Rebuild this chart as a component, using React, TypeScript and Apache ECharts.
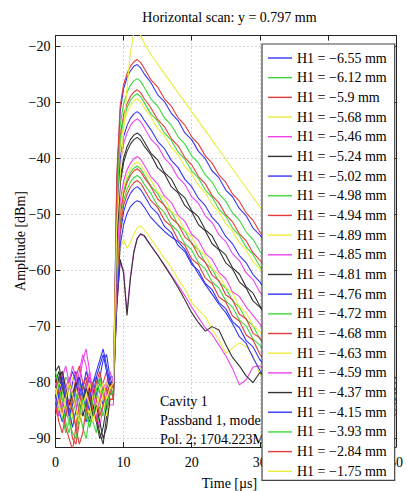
import { useEffect, useRef } from "react";
import * as echarts from "echarts";

const times = [0, 0.5, 1, 1.5, 2, 2.5, 3, 3.5, 4, 4.5, 5, 5.5, 6, 6.5, 7, 7.5, 8, 8.5, 9, 9.5, 10, 10.5, 11, 11.5, 12, 12.5, 13, 14, 15, 16, 17, 18, 19, 20, 21, 22, 23, 24, 25, 26, 27, 28, 29, 30, 33, 36, 39, 42, 45, 48, 50];

const h655 = [-81,-79,-83,-86,-84,-80,-78,-81,-85,-87,-84,-80,-79,-82,-84,-81,-79, -81,-44,-31.5,-27.5,-25.5,-24.3,-23.5,-23.2,-23.8,-24.8, -26.4,-28.6,-29.8,-31.9,-33.2,-35.4,-36.6,-38.7,-40.0,-42.2,-43.4,-45.6,-46.8,-48.9,-50.2,-52.4,-53.6, -59.2,-64.0,-69.3,-74.0,-79.1,-81.5,-84];
const h612 = [-84,-86,-82,-79,-80,-84,-88,-86,-82,-80,-83,-87,-89,-85,-81,-83,-80, -83,-46,-34,-30.2,-28.2,-26.9,-26.1,-25.7,-26.2,-27.2, -29.3,-30.6,-32.7,-34.0,-36.1,-37.4,-39.5,-40.8,-42.9,-44.2,-46.3,-47.6,-49.7,-51.0,-53.1,-54.4,-56.5, -61.5,-66.6,-71.8,-76.5,-80.5,-83,-81];
const h590 = [-83,-80,-78,-81,-86,-90,-91,-87,-83,-80,-79,-82,-85,-83,-80,-78,-81, -81,-48,-36,-32.2,-30.2,-28.9,-28.1,-27.7,-28.2,-29.2, -30.9,-33.0,-34.3,-36.4,-37.7,-39.8,-41.1,-43.2,-44.5,-46.6,-47.9,-50.0,-51.3,-53.4,-54.7,-56.8,-58.1, -63.4,-68.5,-73.6,-78.5,-82,-80,-83];
const h568 = [-80,-82,-85,-84,-81,-79,-82,-86,-88,-85,-82,-80,-83,-86,-84,-82,-80, -80,-50,-37.5,-33.8,-31.8,-30.5,-29.7,-29.3,-29.8,-30.8, -32.5,-34.6,-35.9,-38.0,-39.3,-41.4,-42.7,-44.8,-46.1,-48.2,-49.5,-51.6,-52.9,-55.0,-56.3,-58.4,-59.7, -65,-70.1,-75.2,-80,-83,-81,-84];
const h546 = [-85,-82,-79,-77,-80,-83,-81,-78,-75,-77,-81,-84,-82,-79,-81,-84,-82, -82,-53,-41,-37.4,-35.4,-34.1,-33.3,-32.9,-33.4,-34.4, -36.5,-37.7,-39.9,-41.2,-43.4,-44.6,-46.8,-48.0,-50.2,-51.4,-53.6,-54.8,-57.0,-58.2,-60.4,-61.6,-63.8, -68.6,-73.7,-78.8,-82,-80,-83,-81];
const h524 = [-78,-77,-80,-84,-86,-83,-80,-79,-82,-85,-87,-84,-86,-89,-91,-86,-82, -82,-56,-44.5,-40.7,-38.7,-37.4,-36.6,-36.2,-36.7,-37.7, -39.3,-41.6,-42.7,-45.0,-46.1,-48.4,-49.5,-51.8,-52.9,-55.2,-56.3,-58.6,-59.7,-62.0,-63.1,-65.4,-66.5, -71.9,-77,-81,-83,-80,-82,-79];
const h502 = [-82,-85,-87,-84,-80,-78,-80,-83,-81,-78,-80,-84,-82,-79,-76,-75,-79, -79,-65,-53.5,-49.5,-47.5,-46.2,-45.4,-45.0,-45.5,-46.5, -48.6,-49.8,-52.1,-53.2,-55.5,-56.6,-58.9,-60.0,-62.3,-63.4,-65.7,-66.8,-69.1,-70.2,-72.5,-73.6,-75.9, -80.5,-83,-80,-82,-85,-81,-83];
const h498 = [-79,-81,-84,-87,-89,-86,-83,-80,-82,-86,-88,-85,-81,-79,-82,-85,-81, -81,-63,-51.5,-47.5,-45.5,-44.2,-43.4,-43.0,-43.5,-44.5, -46.2,-48.4,-49.6,-51.8,-53.0,-55.2,-56.3,-58.6,-59.7,-62.0,-63.1,-65.4,-66.5,-68.8,-69.9,-72.2,-73.3, -78.4,-82,-84,-81,-80,-83,-82];
const h494 = [-86,-83,-80,-82,-85,-83,-79,-77,-80,-84,-86,-83,-80,-78,-81,-83,-80, -83,-64,-52.5,-48.4,-46.4,-45.1,-44.3,-43.9,-44.4,-45.4, -47.5,-48.7,-51.0,-52.1,-54.5,-55.5,-57.9,-58.9,-61.3,-62.3,-64.7,-65.6,-68.1,-69.0,-71.5,-72.4,-74.9, -79.5,-83,-81,-84,-80,-82,-85];
const h489 = [-83,-85,-83,-80,-82,-86,-87,-84,-81,-83,-86,-84,-81,-80,-83,-86,-83, -83,-65,-56,-54.5,-56,-55,-53.5,-52.4,-52,-52.6, -54.3,-56,-57.8,-59.4,-61.5,-63.3,-65.7,-67,-68.2,-70.5,-72.4,-74.8,-73.8,-72.9,-73.6,-75.2,-78.5, -81,-84,-80,-82,-85,-82,-80];
const h485 = [-80,-83,-86,-84,-80,-77,-79,-82,-84,-81,-78,-82,-86,-88,-84,-80,-78, -80,-66,-58.5,-60,-67.5,-61,-56.5,-54.2,-53.5,-53.8, -55.6,-57.3,-59.0,-60.8,-62.6,-64.5,-66.5,-68.4,-70.2,-71.4,-73.3,-75.2,-77.5,-80.4,-79.5,-77.2,-77.0, -80,-83,-81,-85,-82,-80,-86];
const h481 = [-82,-79,-78,-81,-84,-82,-80,-83,-86,-84,-81,-84,-87,-90,-88,-84,-80, -81,-66.5,-58,-60.5,-68,-61.5,-56.8,-54.3,-53.4,-53.7, -55.5,-57.2,-59.1,-61.0,-63.0,-65.2,-67.5,-69.3,-70.8,-70.0,-70.6,-73.2,-75.5,-77.0,-78.8,-80.0,-78.2, -81,-79,-84,-82,-80,-85,-83];
const h476 = [-84,-81,-79,-82,-85,-88,-85,-82,-80,-83,-85,-82,-79,-77,-75,-78,-82, -82,-66,-55.5,-51.8,-49.8,-48.6,-47.9,-47.5,-47.8,-48.6, -50.5,-51.8,-53.0,-54.0,-54.8,-56.2,-58.5,-60.6,-62.5,-64.2,-66.0,-67.5,-69.5,-71.8,-73.0,-75.5,-77.8, -82,-80,-84,-81,-83,-79,-82];
const h472 = [-81,-84,-86,-89,-87,-84,-82,-85,-88,-90,-86,-83,-81,-84,-86,-83,-81, -82,-61,-49.5,-45.8,-43.8,-42.5,-41.7,-41.3,-41.8,-42.8, -44.9,-46.2,-48.4,-49.5,-51.8,-52.9,-55.2,-56.3,-58.6,-59.7,-62.0,-63.1,-65.4,-66.5,-68.8,-69.8,-72.2, -77,-81.5,-83,-80,-82,-85,-81];
const h468 = [-79,-82,-85,-88,-90,-92,-88,-84,-81,-79,-82,-85,-87,-84,-81,-80,-82, -80,-61.5,-50,-46.3,-44.3,-43,-42.2,-41.8,-42.3,-43.3, -45.0,-47.2,-48.3,-50.6,-51.7,-54.0,-55.0,-57.4,-58.5,-60.8,-61.8,-64.3,-65.2,-67.8,-68.6,-71.2,-72.0, -77.3,-82,-80,-83,-81,-79,-84];
const h463 = [-82,-80,-81,-84,-86,-84,-81,-83,-85,-82,-80,-83,-85,-84,-82,-80,-81, -81,-60,-48.5,-45,-43,-41.8,-41,-40.6,-41.1,-42.1, -43.8,-46.0,-47.2,-49.4,-50.5,-52.8,-53.9,-56.2,-57.3,-59.6,-60.7,-63.0,-64.0,-66.4,-67.5,-69.8,-70.9, -75.9,-80.5,-83,-81,-79,-84,-82];
const h459 = [-83,-86,-84,-81,-79,-82,-85,-80,-76,-74,-78,-82,-85,-83,-80,-82,-84, -84,-59,-47.5,-44,-42,-40.8,-40,-39.6,-40.1,-41.1, -43.2,-44.5,-46.7,-47.8,-50.1,-51.2,-53.5,-54.6,-56.9,-58.0,-60.3,-61.4,-63.8,-64.6,-66.5,-68.0,-69.5, -74.8,-79.6,-82,-80,-84,-81,-83];
const h437 = [-80,-78,-81,-83,-80,-82,-85,-87,-84,-81,-83,-86,-84,-87,-90,-88,-83, -83,-55,-43.5,-39.9,-37.9,-36.6,-35.8,-35.4,-35.9,-36.9, -39.0,-40.2,-42.5,-43.6,-45.9,-47.0,-49.3,-50.4,-52.7,-53.8,-56.1,-57.2,-59.5,-60.6,-62.9,-64.0,-66.3, -71.1,-76.2,-80.5,-82,-79,-83,-81];
const h415 = [-85,-82,-80,-83,-86,-84,-81,-79,-82,-85,-83,-80,-78,-76,-74,-77,-80, -80,-52,-40,-36.1,-34.1,-32.8,-32.0,-31.6,-32.1,-33.1, -34.8,-36.9,-38.2,-40.3,-41.6,-43.7,-45.0,-47.1,-48.4,-50.5,-51.8,-53.9,-55.2,-57.3,-58.6,-60.7,-62.0, -67.3,-72.4,-77.5,-81,-83,-80,-82];
const h393 = [-78,-81,-83,-85,-87,-89,-90,-86,-83,-85,-88,-86,-83,-80,-82,-84,-82, -82,-49,-36.5,-32.9,-30.9,-29.6,-28.8,-28.4,-28.9,-29.9, -32.0,-33.3,-35.4,-36.7,-38.8,-40.1,-42.2,-43.5,-45.6,-46.9,-49.0,-50.3,-52.4,-53.7,-55.8,-57.1,-59.2, -64.1,-69.2,-74.3,-79.4,-82,-80,-84];
const h284 = [-84,-87,-89,-86,-83,-85,-88,-91,-89,-85,-82,-80,-83,-86,-84,-81,-83, -83,-43,-30.5,-26.8,-24.8,-23.5,-22.7,-22.3,-22.8,-23.8, -25.9,-27.2,-29.3,-30.6,-32.7,-34.0,-36.1,-37.4,-39.5,-40.8,-42.9,-44.2,-46.3,-47.6,-49.7,-51.0,-53.1, -58.2,-63.3,-68.4,-73.5,-78.6,-82,-80];
const h175 = [-81,-84,-86,-83,-80,-82,-85,-87,-84,-82,-84,-87,-85,-82,-80,-83,-81, -80,-52,-43,-35,-27.5,-21,-17.5,-17,-18.0,-19.3, -21.4,-23.1,-24.8,-26.5,-28.2,-29.9,-31.6,-33.3,-35.0,-36.7,-38.4,-40.1,-41.8,-43.5,-45.2,-46.9,-48.6, -53.7,-58.8,-63.9,-69.0,-74.1,-79.2,-82.6];

const seriesNames = [
  "H1 = −6.55 mm", "H1 = −6.12 mm", "H1 = −5.9 mm", "H1 = −5.68 mm", "H1 = −5.46 mm", "H1 = −5.24 mm",
  "H1 = −5.02 mm", "H1 = −4.98 mm", "H1 = −4.94 mm", "H1 = −4.89 mm", "H1 = −4.85 mm", "H1 = −4.81 mm",
  "H1 = −4.76 mm", "H1 = −4.72 mm", "H1 = −4.68 mm", "H1 = −4.63 mm", "H1 = −4.59 mm", "H1 = −4.37 mm",
  "H1 = −4.15 mm", "H1 = −3.93 mm", "H1 = −2.84 mm", "H1 = −1.75 mm",
];
const seriesValues = [h655, h612, h590, h568, h546, h524, h502, h498, h494, h489, h485, h481, h476, h472, h468, h463, h459, h437, h415, h393, h284, h175];
const lineColors = ["#3636f2", "#3cd83c", "#e53c3c", "#ecec3c", "#ee44ee", "#333333"];

const titleText = "Horizontal scan: y = 0.797 mm";
const xTitle = "Time [µs]";
const yTitle = "Amplitude [dBm]";
const noteLines = ["Cavity 1", "Passband 1, mode 1", "Pol. 2; 1704.223MHz"];

const FONT = "'Liberation Serif', 'Times New Roman', serif";

export default function App() {
  const ref = useRef<HTMLDivElement>(null);
  useEffect(() => {
    if (!ref.current) return;
    const chart = echarts.init(ref.current, null, { renderer: "svg" });
    const axisLine = { show: true, onZero: false, lineStyle: { color: "#222", width: 1 } };
    const tick = { show: true, inside: true, length: 5, lineStyle: { color: "#222", width: 1 } };
    const grid = { show: true, lineStyle: { color: "#a8a8a8", width: 1, type: [1, 3] as any } };
    const fmt = (v: number) => String(v).replace("-", "−");
    const series = seriesNames.map((name, k) => ({
      name,
      type: "line",
      data: seriesValues[k].map((v, i) => [times[i], v]),
      symbol: "none",
      showSymbol: false,
      color: lineColors[k % lineColors.length],
      itemStyle: { color: lineColors[k % lineColors.length] },
      lineStyle: { width: 1.1, color: lineColors[k % lineColors.length] },
      z: 2,
    }));
    chart.setOption({
      animation: false,
      backgroundColor: "#fff",
      textStyle: { fontFamily: FONT },
      grid: { left: 55.5, right: 7.5, top: 35.5, bottom: 44, containLabel: false },
      xAxis: [
        {
          type: "value", min: 0, max: 50, interval: 10, position: "bottom",
          axisLine, axisTick: tick, splitLine: grid,
          axisLabel: { color: "#000", fontSize: 14, fontFamily: FONT, margin: 8 },
        },
        {
          type: "value", min: 0, max: 50, interval: 10, position: "top",
          axisLine, axisTick: tick, splitLine: { show: false }, axisLabel: { show: false },
        },
      ],
      yAxis: [
        {
          type: "value", min: -91.5, max: -18, splitNumber: 7, position: "left",
          axisLine, axisTick: tick, splitLine: grid,
          axisLabel: { color: "#000", fontSize: 14, fontFamily: FONT, margin: 5, formatter: fmt, showMinLabel: false, showMaxLabel: false },
        },
        {
          type: "value", min: -91.5, max: -18, splitNumber: 7, position: "right",
          axisLine, axisTick: tick, splitLine: { show: false }, axisLabel: { show: false },
        },
      ],
      legend: {
        data: seriesNames,
        orient: "vertical",
        left: 262,
        top: 44,
        icon: "rect",
        itemWidth: 24,
        itemHeight: 1.4,
        itemGap: 5.68,
        padding: [7, 8, 2, 6],
        backgroundColor: "#fff",
        borderColor: "#444",
        borderWidth: 1.2,
        selectedMode: false,
        z: 5,
        textStyle: { color: "#000", fontSize: 14, fontFamily: FONT, lineHeight: 14 },
      },
      graphic: [
        { type: "text", x: 229.5, y: 17, z: 6, style: { text: titleText, font: `14px ${FONT}`, fill: "#000", align: "center", verticalAlign: "middle" } },
        { type: "text", x: 229.5, y: 483, z: 6, style: { text: xTitle, font: `14px ${FONT}`, fill: "#000", align: "center", verticalAlign: "middle" } },
        { type: "text", x: 20, y: 241, rotation: Math.PI / 2, z: 6, style: { text: yTitle, font: `14px ${FONT}`, fill: "#000", align: "center", verticalAlign: "middle" } },
        ...noteLines.map((t, i) => ({
          type: "text", x: 160, y: 401 + i * 19.3, z: 3,
          style: { text: t, font: `14px ${FONT}`, fill: "#000", align: "left", verticalAlign: "middle" },
        })),
      ],
      series,
    });
    return () => chart.dispose();
  }, []);
  return <div ref={ref} style={{ position: "absolute", left: 0, top: 0, width: 406, height: 491, background: "#fff" }} />;
}
